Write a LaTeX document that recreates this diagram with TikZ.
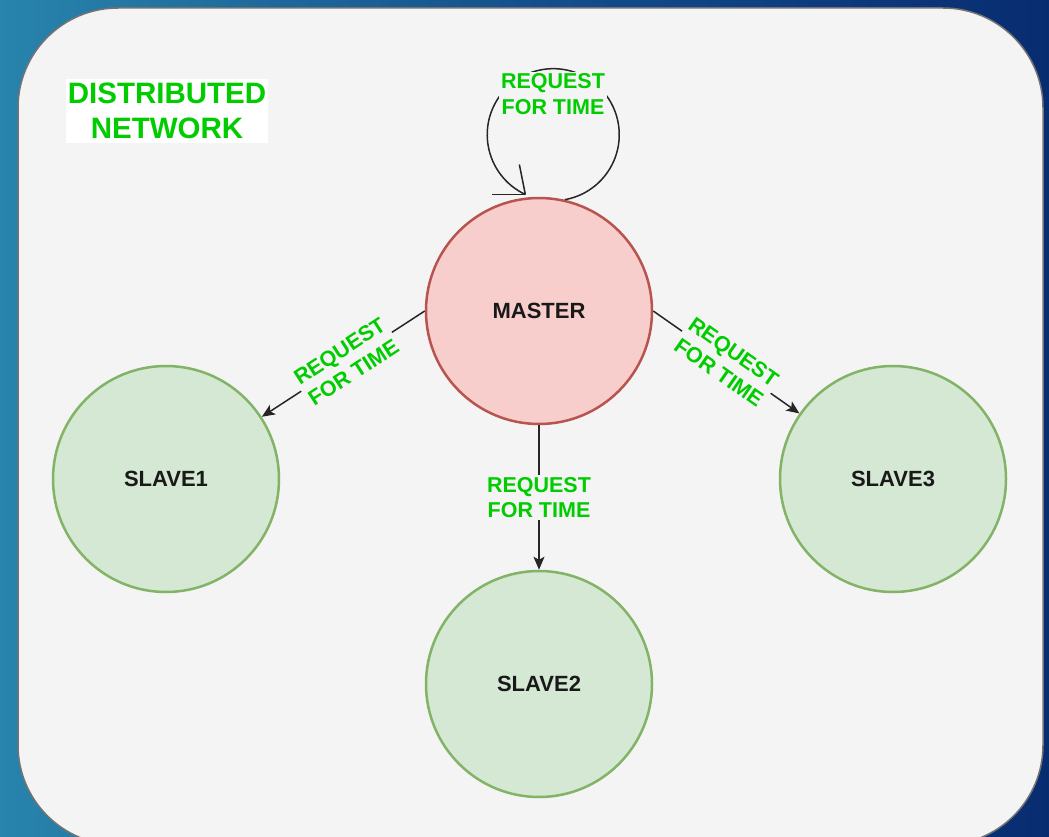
\documentclass[tikz,border=0pt]{standalone}
\usepackage{fontspec}
\setmainfont{Liberation Sans}
\usetikzlibrary{arrows.meta}
\definecolor{canvas}{HTML}{F4F4F4}
\definecolor{lblgreen}{HTML}{00CC00}
\definecolor{mfill}{HTML}{F8CECC}
\definecolor{mdraw}{HTML}{B85450}
\definecolor{sfill}{HTML}{D5E8D4}
\definecolor{sdraw}{HTML}{82B366}
\definecolor{bgleft}{RGB}{40,132,172}
\definecolor{bgright}{RGB}{8,44,112}
\tikzset{
  state/.style={circle, minimum size=226pt, inner sep=0pt, line width=2.5pt,
    font=\bfseries\fontsize{22}{26}\selectfont, text=black!90},
  masterstate/.style={state, fill=mfill, draw=mdraw},
  slavestate/.style={state, fill=sfill, draw=sdraw},
  conn/.style={draw=black!85, line width=1.5pt},
  arr/.style={conn, -{Stealth[length=13pt,width=11pt,inset=3pt]}},
  lbl/.style={fill=canvas, text=lblgreen, inner sep=2pt, align=center,
    font=\bfseries\fontsize{21.5}{25.5}\selectfont},
  titlebox/.style={fill=white, text=lblgreen, align=center, inner xsep=2pt, inner ysep=4pt,
    font=\bfseries\fontsize{29.5}{35}\selectfont}
}
\begin{document}
\begin{tikzpicture}[x=1pt,y=-1pt]
\useasboundingbox (0,0) rectangle (1049,837);
\shade[left color=bgleft, right color=bgright, middle color={rgb,255:red,20;green,80;blue,140}] (0,0) rectangle (1049,837);
\draw[fill=canvas, draw=black!55, line width=1.5pt, rounded corners=100pt] (18,8) rectangle (1043,845);

\node[titlebox] (title) at (167,111) {DISTRIBUTED\\NETWORK};

\node[masterstate] (master) at (539,311) {MASTER};
\node[slavestate] (slave1) at (166,479) {SLAVE1};
\node[slavestate] (slave2) at (539,684) {SLAVE2};
\node[slavestate] (slave3) at (893,479) {SLAVE3};

\draw[arr] (master.west) -- node[lbl, sloped, pos=0.48] {REQUEST\\FOR TIME} (slave1);
\draw[arr] (master.east) -- node[lbl, sloped] {REQUEST\\FOR TIME} (slave3);
\draw[arr] (master.south) -- node[lbl] {REQUEST\\FOR TIME} (slave2.north);

\draw[conn] (master.77) arc[start angle=80, end angle=-245, radius=66] coordinate (loopend);
\draw[conn] (loopend) -- +(-33,0);
\draw[conn] (loopend) -- +(-6,-30);
\node[lbl] (looplbl) at (553,94) {REQUEST\\FOR TIME};
\end{tikzpicture}
\end{document}
